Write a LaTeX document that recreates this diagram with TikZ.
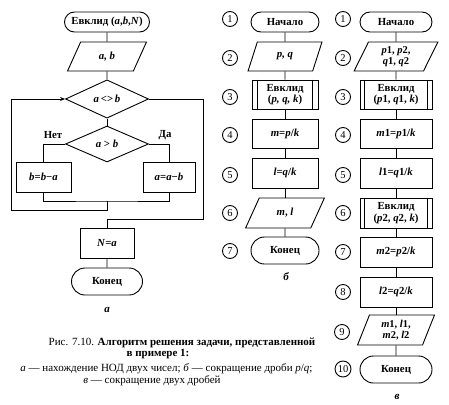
\documentclass[tikz,border=0pt]{standalone}
\usepackage{fontspec}
\setmainfont{Liberation Serif}
\usetikzlibrary{shapes.geometric,shapes.misc,arrows.meta}
\begin{document}
\begin{tikzpicture}[x=1pt,y=-1pt,
  lw/.style={line width=0.9pt},
  txt/.style={font=\fontsize{10.8}{11}\selectfont\bfseries, align=center, inner sep=1pt},
  base/.style={txt, draw, lw},
  term/.style={base, rounded rectangle, minimum height=#1},
  term/.default=20,
  proc/.style={base, rectangle, minimum height=30},
  io/.style={base, trapezium, trapezium left angle=68, trapezium right angle=112, trapezium stretches=true, minimum height=29},
  dec/.style={base, diamond, minimum width=83, minimum height=36},
  num/.style={draw, lw, circle, minimum size=15, inner sep=0pt, font=\fontsize{10.5}{11}\selectfont},
  conn/.style={lw},
  lbl/.style={txt, font=\fontsize{11}{12}\selectfont\bfseries\itshape}
]
\useasboundingbox (0,0) rectangle (449,404);

% ---------- part a ----------
\node[term, minimum width=87] (a1) at (107,22) {Евклид (\textit{a},\textit{b},\textit{N})};
\node[io, minimum width=79] (a2) at (107,56.5) {\textit{a, b}};
\node[dec] (d1) at (107,99) {\textit{a}\,<>\,\textit{b}};
\node[dec] (d2) at (107,144) {\textit{a} > \textit{b}};
\node[proc, minimum width=55] (b1) at (43.5,177) {\textit{b}=\textit{b}−\textit{a}};
\node[proc, minimum width=52] (b2) at (169,177) {\textit{a}=\textit{a}−\textit{b}};
\node[proc, minimum width=54] (na) at (107,243) {\textit{N}=\textit{a}};
\node[term=27, minimum width=73] (ka) at (107,281.5) {Конец};
\node[txt] (net) at (53,135) {Нет};
\node[txt] (da) at (165,135) {Да};
\node[lbl] (la) at (107,310) {а};

\coordinate (jn) at (107,201);
\coordinate (lp) at (107,210);
\coordinate (lx) at (11,210);
\coordinate (rx) at (203,219);

\draw[conn] (a1) -- (a2);
\draw[conn] (a2) -- (d1);
\draw[conn] (d1) -- (d2);
\draw[conn] (d2.west) -| (b1.north);
\draw[conn] (d2.east) -| (b2.north);
\draw[conn] (b1.south) |- (jn) -| (b2.south);
\draw[conn, -{Stealth[length=5pt,width=4pt]}] (jn) -- (lp) -- (lx) |- (d1.west);
\draw[conn] (d1.east) -| (rx) -| (na.north);
\draw[conn] (na) -- (ka);

% ---------- part b ----------
\node[term, minimum width=70] (p1) at (285,22) {Начало};
\node[io, minimum width=74, trapezium left angle=72, trapezium right angle=108] (p2) at (285,56.5) {\textit{p, q}};
\node[proc, minimum width=66, minimum height=29, font=\fontsize{10.8}{11.5}\selectfont\bfseries] (p3) at (285,94.5) {Евклид\\(\textit{p, q, k})};
\node[proc, minimum width=66, minimum height=29] (p4) at (285,133.5) {\textit{m}=\textit{p}/\textit{k}};
\node[proc, minimum width=66] (p5) at (285,173) {\textit{l}=\textit{q}/\textit{k}};
\node[io, minimum width=79, minimum height=30, trapezium left angle=66, trapezium right angle=114] (p6) at (285,213) {\textit{m}, \textit{l}};
\node[term=27, minimum width=70] (p7) at (285,250.5) {Конец};
\node[lbl] (lb) at (286,277) {б};
\draw[conn] ([xshift=6pt]p3.north west) -- ([xshift=6pt]p3.south west);
\draw[conn] ([xshift=-6pt]p3.north east) -- ([xshift=-6pt]p3.south east);
\draw[conn] (p1) -- (p2);
\draw[conn] (p2) -- (p3);
\draw[conn] (p3) -- (p4);
\draw[conn] (p4) -- (p5);
\draw[conn] (p5) -- (p6);
\draw[conn] (p6) -- (p7);

\node[num] (nb1) at (230,19) {1};
\node[num] (nb2) at (230,58) {2};
\node[num] (nb3) at (230,97) {3};
\node[num] (nb4) at (230,135) {4};
\node[num] (nb5) at (230,175) {5};
\node[num] (nb6) at (230,213) {6};
\node[num] (nb7) at (230,251) {7};

% ---------- part v ----------
\node[term, minimum width=74] (q1) at (396,22) {Начало};
\node[io, minimum width=84, trapezium left angle=70, trapezium right angle=110, inner sep=0pt, font=\fontsize{10.5}{11.5}\selectfont\bfseries] (q2) at (396,56.5) {\textit{p}1, \textit{p}2,\\\textit{q}1, \textit{q}2};
\node[proc, minimum width=72, minimum height=29, font=\fontsize{10.8}{11.5}\selectfont\bfseries] (q3) at (396,94.5) {Евклид\\(\textit{p}1, \textit{q}1, \textit{k})};
\node[proc, minimum width=72, minimum height=29] (q4) at (396,133.5) {\textit{m}1=\textit{p}1/\textit{k}};
\node[proc, minimum width=72] (q5) at (396,173) {\textit{l}1=\textit{q}1/\textit{k}};
\node[proc, minimum width=72, font=\fontsize{10.8}{11.5}\selectfont\bfseries] (q6) at (396,213) {Евклид\\(\textit{p}2, \textit{q}2, \textit{k})};
\node[proc, minimum width=72] (q7) at (396,252) {\textit{m}2=\textit{p}2/\textit{k}};
\node[proc, minimum width=72] (q8) at (396,292) {\textit{l}2=\textit{q}2/\textit{k}};
\node[io, minimum width=77, minimum height=30, trapezium left angle=72, trapezium right angle=108, inner sep=0pt, font=\fontsize{10.5}{11.5}\selectfont\bfseries] (q9) at (396,330) {\textit{m}1, \textit{l}1,\\\textit{m}2, \textit{l}2};
\node[term=27, minimum width=74] (q10) at (396,369.5) {Конец};
\node[lbl] (lv) at (397,397) {в};
\draw[conn] ([xshift=5pt]q3.north west) -- ([xshift=5pt]q3.south west);
\draw[conn] ([xshift=-5pt]q3.north east) -- ([xshift=-5pt]q3.south east);
\draw[conn] ([xshift=5pt]q6.north west) -- ([xshift=5pt]q6.south west);
\draw[conn] ([xshift=-5pt]q6.north east) -- ([xshift=-5pt]q6.south east);
\draw[conn] (q1) -- (q2);
\draw[conn] (q2) -- (q3);
\draw[conn] (q3) -- (q4);
\draw[conn] (q4) -- (q5);
\draw[conn] (q5) -- (q6);
\draw[conn] (q6) -- (q7);
\draw[conn] (q7) -- (q8);
\draw[conn] (q8) -- (q9);
\draw[conn] (q9) -- (q10);

\node[num] (nv1) at (343,19) {1};
\node[num] (nv2) at (343,58) {2};
\node[num] (nv3) at (343,97) {3};
\node[num] (nv4) at (343,135) {4};
\node[num] (nv5) at (343,175) {5};
\node[num] (nv6) at (343,213) {6};
\node[num] (nv7) at (343,252) {7};
\node[num] (nv8) at (343,292) {8};
\node[num] (nv9) at (342,332) {9};
\node[num, minimum size=16] (nv10) at (343,369) {10};

% ---------- caption ----------
\node[font=\fontsize{11}{12}\selectfont, inner sep=0pt] (c1) at (182,343) {Рис. 7.10. \textbf{Алгоритм решения задачи, представленной}};
\node[font=\fontsize{11}{12}\selectfont\bfseries, inner sep=0pt] (c2) at (158,354) {в примере 1:};
\node[font=\fontsize{11}{12}\selectfont, inner sep=0pt] (c3) at (166.5,369) {\textit{а} — нахождение НОД двух чисел; \textit{б} — сокращение дроби \textit{p}/\textit{q};};
\node[font=\fontsize{11}{12}\selectfont, inner sep=0pt] (c4) at (152,380.5) {\textit{в} — сокращение двух дробей};
\end{tikzpicture}
\end{document}
